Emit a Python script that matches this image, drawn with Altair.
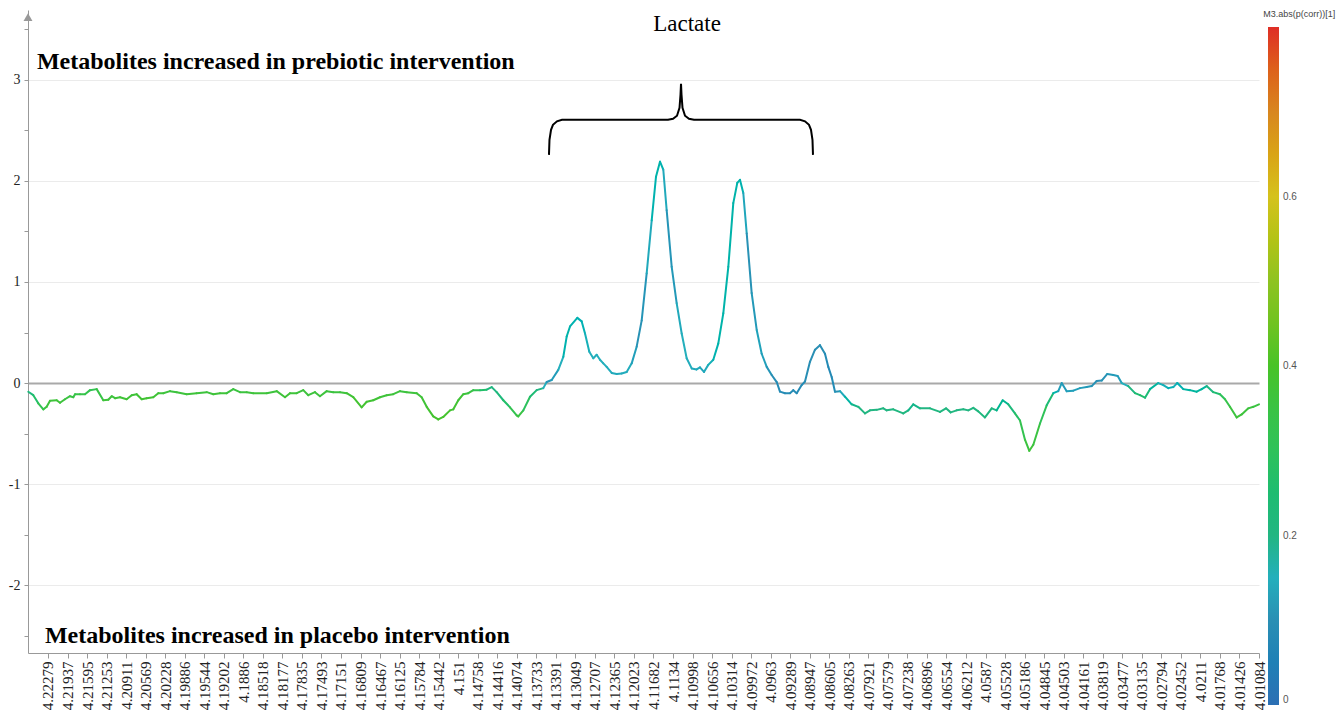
import altair as alt
import pandas as pd

# Chemical shift (ppm), loading value and |p(corr)| along the spectrum
PPM = [
    4.22624, 4.22536, 4.22449, 4.22361, 4.22302, 4.22244, 4.22127, 4.22069, 4.21982, 4.21894,
    4.21836, 4.21806, 4.21719, 4.21631, 4.21544, 4.21427, 4.21311, 4.21224, 4.21164, 4.21106,
    4.21019, 4.20902, 4.20814, 4.20727, 4.20639, 4.20552, 4.20436, 4.20349, 4.20261, 4.20144,
    4.20027, 4.19852, 4.19677, 4.19501, 4.19386, 4.19269, 4.19151, 4.19036, 4.18919, 4.18801,
    4.18686, 4.18451, 4.18276, 4.18131, 4.18044, 4.17926, 4.17811, 4.17723, 4.17606, 4.17519,
    4.17401, 4.17286, 4.17168, 4.17051, 4.16936, 4.16789, 4.16701, 4.16586, 4.16468, 4.16351,
    4.16236, 4.16118, 4.16001, 4.15826, 4.15739, 4.15651, 4.15536, 4.15448, 4.15361, 4.15243,
    4.15185, 4.15098, 4.15010, 4.14923, 4.14835, 4.14718, 4.14601, 4.14513, 4.14426, 4.14310,
    4.14193, 4.14076,
    4.14048, 4.13960, 4.13843, 4.13726, 4.13610, 4.13551, 4.13463, 4.13348, 4.13260, 4.13201,
    4.13143, 4.13015, 4.12938, 4.12880, 4.12805, 4.12735, 4.12676, 4.12618, 4.12560, 4.12501,
    4.12413, 4.12326, 4.12238, 4.12151, 4.12063, 4.11976, 4.11888, 4.11801, 4.11713, 4.11638,
    4.11568, 4.11510, 4.11451, 4.11363, 4.11276, 4.11188, 4.11101, 4.11013, 4.10926, 4.10868,
    4.10798, 4.10723, 4.10635, 4.10548, 4.10460, 4.10372, 4.10285, 4.10215, 4.10168, 4.10110,
    4.10050, 4.09963, 4.09875, 4.09788, 4.09700, 4.09613, 4.09525, 4.09468, 4.09380, 4.09293,
    4.09235, 4.09175, 4.09088, 4.09030, 4.08943, 4.08855, 4.08768, 4.08680, 4.08622, 4.08563,
    4.08505, 4.08417, 4.08330, 4.08213, 4.08097, 4.07980, 4.07892, 4.07775, 4.07660, 4.07600,
    4.07485, 4.07310, 4.07222, 4.07135, 4.07017, 4.06842, 4.06667, 4.06562, 4.06480, 4.06375,
    4.06259, 4.06172, 4.06084, 4.05997, 4.05880, 4.05762, 4.05675, 4.05570, 4.05472, 4.05355,
    4.05267, 4.05180, 4.05104, 4.05034, 4.04917, 4.04800, 4.04684, 4.04597, 4.04537, 4.04450,
    4.04334, 4.04217, 4.04100, 4.04012, 4.03925, 4.03837, 4.03739, 4.03634, 4.03557, 4.03487,
    4.03372, 4.03254, 4.03167, 4.03079, 4.02992, 4.02847, 4.02759, 4.02672, 4.02584, 4.02514,
    4.02409, 4.02292, 4.02175, 4.02087, 4.02000, 4.01884, 4.01767, 4.01679, 4.01592, 4.01474,
    4.01387, 4.01271, 4.01184, 4.01084,
]

LOADING = [
    -0.086, -0.12, -0.20, -0.26, -0.235, -0.175, -0.17, -0.195, -0.16, -0.13,
    -0.14, -0.11, -0.11, -0.11, -0.07, -0.06, -0.17, -0.165, -0.13, -0.15,
    -0.14, -0.16, -0.12, -0.11, -0.16, -0.15, -0.14, -0.10, -0.10, -0.08,
    -0.09, -0.11, -0.10, -0.09, -0.11, -0.10, -0.10, -0.06, -0.09, -0.09,
    -0.10, -0.10, -0.08, -0.14, -0.10, -0.10, -0.07, -0.12, -0.09, -0.13,
    -0.08, -0.09, -0.09, -0.10, -0.14, -0.24, -0.185, -0.17, -0.14, -0.12,
    -0.11, -0.08, -0.09, -0.10, -0.14, -0.235, -0.33, -0.36, -0.335, -0.27,
    -0.26, -0.17, -0.11, -0.10, -0.07, -0.07, -0.065, -0.04, -0.09, -0.17,
    -0.24, -0.32,
    -0.33, -0.27, -0.135, -0.07, -0.05, 0.01, 0.03, 0.13, 0.26, 0.46,
    0.56, 0.645, 0.61, 0.49, 0.31, 0.245, 0.28, 0.23, 0.195, 0.16,
    0.10, 0.09, 0.095, 0.11, 0.195, 0.36, 0.62, 1.085, 1.61, 2.04,
    2.19, 2.11, 1.71, 1.15, 0.79, 0.49, 0.245, 0.145, 0.135, 0.155,
    0.11, 0.18, 0.23, 0.39, 0.69, 1.15, 1.78, 1.98, 2.01, 1.88,
    1.48, 0.89, 0.525, 0.29, 0.16, 0.08, 0.01, -0.085, -0.10, -0.10,
    -0.07, -0.10, -0.02, 0.015, 0.21, 0.33, 0.375, 0.29, 0.16, 0.06,
    -0.085, -0.08, -0.135, -0.21, -0.235, -0.30, -0.27, -0.265, -0.25, -0.27,
    -0.26, -0.30, -0.27, -0.21, -0.25, -0.25, -0.285, -0.25, -0.29, -0.27,
    -0.26, -0.27, -0.245, -0.28, -0.34, -0.25, -0.27, -0.17, -0.21, -0.30,
    -0.37, -0.56, -0.67, -0.61, -0.40, -0.22, -0.10, -0.08, 0.0, -0.08,
    -0.075, -0.05, -0.04, -0.03, 0.02, 0.025, 0.09, 0.08, 0.07, 0.0,
    -0.03, -0.10, -0.12, -0.145, -0.06, 0.0, -0.02, -0.05, -0.04, 0.0,
    -0.06, -0.07, -0.085, -0.06, -0.03, -0.09, -0.11, -0.16, -0.235, -0.34,
    -0.31, -0.25, -0.235, -0.21,
]

CORR = [
    0.20, 0.24, 0.30, 0.34, 0.36, 0.37, 0.37, 0.37, 0.36, 0.35,
    0.35, 0.34, 0.34, 0.34, 0.32, 0.32, 0.37, 0.37, 0.36, 0.37,
    0.37, 0.38, 0.37, 0.37, 0.38, 0.38, 0.38, 0.37, 0.37, 0.36,
    0.36, 0.37, 0.37, 0.36, 0.37, 0.37, 0.37, 0.35, 0.36, 0.36,
    0.37, 0.37, 0.36, 0.38, 0.37, 0.37, 0.36, 0.37, 0.36, 0.37,
    0.36, 0.36, 0.36, 0.37, 0.38, 0.39, 0.38, 0.38, 0.37, 0.37,
    0.37, 0.36, 0.36, 0.37, 0.37, 0.38, 0.39, 0.39, 0.39, 0.39,
    0.38, 0.38, 0.37, 0.36, 0.34, 0.30, 0.24, 0.20, 0.20, 0.24,
    0.30, 0.35,
    0.37, 0.33, 0.26, 0.22, 0.18, 0.12, 0.10, 0.14, 0.16, 0.17,
    0.17, 0.16, 0.16, 0.16, 0.15, 0.15, 0.15, 0.15, 0.15, 0.15,
    0.14, 0.14, 0.14, 0.15, 0.14, 0.11, 0.10, 0.12, 0.16, 0.17,
    0.17, 0.16, 0.12, 0.10, 0.13, 0.15, 0.15, 0.14, 0.14, 0.14,
    0.13, 0.15, 0.16, 0.17, 0.17, 0.17, 0.17, 0.17, 0.17, 0.16,
    0.11, 0.10, 0.13, 0.13, 0.12, 0.10, 0.09, 0.08, 0.09, 0.09,
    0.09, 0.09, 0.08, 0.09, 0.10, 0.10, 0.10, 0.09, 0.08, 0.08,
    0.09, 0.12, 0.16, 0.19, 0.20, 0.20, 0.20, 0.20, 0.20, 0.20,
    0.20, 0.21, 0.20, 0.19, 0.20, 0.20, 0.21, 0.20, 0.21, 0.20,
    0.20, 0.20, 0.20, 0.21, 0.22, 0.20, 0.20, 0.18, 0.20, 0.25,
    0.30, 0.35, 0.37, 0.37, 0.34, 0.27, 0.20, 0.14, 0.11, 0.12,
    0.13, 0.12, 0.12, 0.11, 0.10, 0.10, 0.11, 0.12, 0.12, 0.12,
    0.18, 0.24, 0.26, 0.27, 0.20, 0.16, 0.15, 0.16, 0.16, 0.15,
    0.17, 0.18, 0.18, 0.18, 0.18, 0.22, 0.28, 0.32, 0.35, 0.37,
    0.37, 0.36, 0.36, 0.35,
]

X_TICKS = [
    4.22279, 4.21937, 4.21595, 4.21253, 4.20911, 4.20569, 4.20228, 4.19886, 4.19544, 4.19202,
    4.1886, 4.18518, 4.18177, 4.17835, 4.17493, 4.17151, 4.16809, 4.16467, 4.16125, 4.15784,
    4.15442, 4.151, 4.14758, 4.14416, 4.14074, 4.13733, 4.13391, 4.13049, 4.12707, 4.12365,
    4.12023, 4.11682, 4.1134, 4.10998, 4.10656, 4.10314, 4.09972, 4.0963, 4.09289, 4.08947,
    4.08605, 4.08263, 4.07921, 4.07579, 4.07238, 4.06896, 4.06554, 4.06212, 4.0587, 4.05528,
    4.05186, 4.04845, 4.04503, 4.04161, 4.03819, 4.03477, 4.03135, 4.02794, 4.02452, 4.0211,
    4.01768, 4.01426, 4.01084,
]
Y_TICKS = [-2.5, -2, -1.5, -1, -0.5, 0, 0.5, 1, 1.5, 2, 2.5, 3, 3.5]
X_DOMAIN = [4.01084, 4.22629]
Y_DOMAIN = [-2.67, 3.69]

# Colour ramp for |p(corr)|
CORR_STOPS = [0, 0.1, 0.15, 0.2, 0.3, 0.4, 0.5, 0.6, 0.7, 0.8]
CORR_COLORS = ["#2c6fb4", "#2a8fb4", "#24afbc", "#22b682", "#2ec25a", "#48c327",
               "#8ec321", "#d5c21c", "#d8861f", "#df2e26"]
LEGEND_VALUES = [0, 0.2, 0.4, 0.6]

# Curly brace over the lactate signals
BRACE_PPM = [4.13511, 4.13502, 4.13475, 4.13441, 4.13371, 4.13283, 4.11428, 4.11340,
             4.11270, 4.11226, 4.11209, 4.11200, 4.11191, 4.11174, 4.11130, 4.11060,
             4.10973, 4.09118, 4.09030, 4.08960, 4.08925, 4.08899, 4.08890]
BRACE_Y = [2.257, 2.406, 2.505, 2.554, 2.589, 2.604, 2.604, 2.614,
           2.644, 2.723, 2.851, 2.960, 2.851, 2.723, 2.644, 2.614,
           2.604, 2.604, 2.589, 2.554, 2.505, 2.406, 2.257]

NOTE_TEXT = ["Metabolites increased in prebiotic intervention",
             "Metabolites increased in placebo intervention"]
NOTE_PPM = [4.22472, 4.22332]
NOTE_Y = [3.178, -2.505]

TITLE_TEXT = ["Lactate"]
TITLE_PPM = [4.11094]
TITLE_Y = [3.554]

LEGEND_TITLE = ["M3.abs(p(corr))[1]"]
LEGEND_TITLE_PPM = [4.01010]
LEGEND_TITLE_Y = [3.653]

SERIF = "Liberation Serif"
SANS = "Liberation Sans"

segments = pd.DataFrame({
    "x": PPM[:-1], "x2": PPM[1:],
    "y": LOADING[:-1], "y2": LOADING[1:],
    "c": [(a + b) / 2 for a, b in zip(CORR[:-1], CORR[1:])],
})
brace = pd.DataFrame({"x": BRACE_PPM, "y": BRACE_Y, "i": list(range(len(BRACE_PPM)))})
notes = pd.DataFrame({"t": NOTE_TEXT, "x": NOTE_PPM, "y": NOTE_Y})
title_df = pd.DataFrame({"t": TITLE_TEXT, "x": TITLE_PPM, "y": TITLE_Y})
legend_title_df = pd.DataFrame({"t": LEGEND_TITLE, "x": LEGEND_TITLE_PPM, "y": LEGEND_TITLE_Y})
arrow_pt = pd.DataFrame({"x": [X_DOMAIN[1]], "y": [Y_DOMAIN[1] - 0.07]})

x_scale = alt.Scale(domain=X_DOMAIN, reverse=True, nice=False, zero=False)
y_scale = alt.Scale(domain=Y_DOMAIN, nice=False, zero=False)

x_axis = alt.Axis(
    values=X_TICKS, labelExpr="'' + datum.value", title=None,
    labelAngle=270, labelFont=SERIF, labelFontSize=15, labelColor="#222",
    labelOverlap=False, labelFlush=False, labelPadding=3,
    tickColor="#999", tickSize=5, domainColor="#999", grid=False,
)
y_axis = alt.Axis(
    values=Y_TICKS, title=None,
    labelExpr="datum.value % 1 === 0 ? '' + datum.value : ''",
    labelFont=SERIF, labelFontSize=14, labelColor="#222", labelPadding=4,
    tickColor="#999", tickSize=4, domainColor="#999",
    grid=True,
    gridColor={"condition": {"test": "datum.value === 0", "value": "#a9a9a9"}, "value": "#ebebeb"},
    gridWidth={"condition": {"test": "datum.value === 0", "value": 2}, "value": 1},
    gridOpacity={"condition": {"test": "datum.value % 1 !== 0", "value": 0}, "value": 1},
)

X = alt.X("x:Q", scale=x_scale, axis=x_axis)
Y = alt.Y("y:Q", scale=y_scale, axis=y_axis)

line = alt.Chart(segments).mark_rule(strokeWidth=2, strokeCap="round").encode(
    x=X,
    x2="x2:Q",
    y=Y,
    y2="y2:Q",
    color=alt.Color(
        "c:Q",
        scale=alt.Scale(domain=CORR_STOPS, range=CORR_COLORS),
        legend=alt.Legend(
            orient="none", legendX=1240, legendY=17, direction="vertical",
            gradientLength=678, gradientThickness=11, gradientStrokeWidth=0,
            title=None, values=LEGEND_VALUES, format=".1~f",
            labelFont=SANS, labelFontSize=10, labelColor="#555", labelOffset=4,
            labelBaseline="middle", padding=0,
        ),
    ),
)

brace_line = alt.Chart(brace).mark_line(color="black", strokeWidth=2).encode(
    x=X, y=Y, order="i:Q",
)

note_text = alt.Chart(notes).mark_text(
    align="left", baseline="middle", font=SERIF, fontSize=24, fontWeight="bold", color="black"
).encode(x=X, y=Y, text="t:N")

title_text = alt.Chart(title_df).mark_text(
    align="center", baseline="middle", font=SERIF, fontSize=23, color="black"
).encode(x=X, y=Y, text="t:N")

legend_title = alt.Chart(legend_title_df).mark_text(
    align="left", baseline="middle", font=SANS, fontSize=9, color="#444"
).encode(x=X, y=Y, text="t:N")

arrow = alt.Chart(arrow_pt).mark_point(
    shape="triangle-up", filled=True, color="#999", opacity=1, size=80
).encode(x=X, y=Y)

chart = alt.layer(line, brace_line, note_text, title_text, legend_title, arrow).properties(
    width=1231, height=643,
    autosize="none",
    padding={"left": 28, "top": 10, "right": 79, "bottom": 60},
).configure_view(stroke=None)

chart.save("out.html", embed_options={"renderer": "svg", "actions": False})
